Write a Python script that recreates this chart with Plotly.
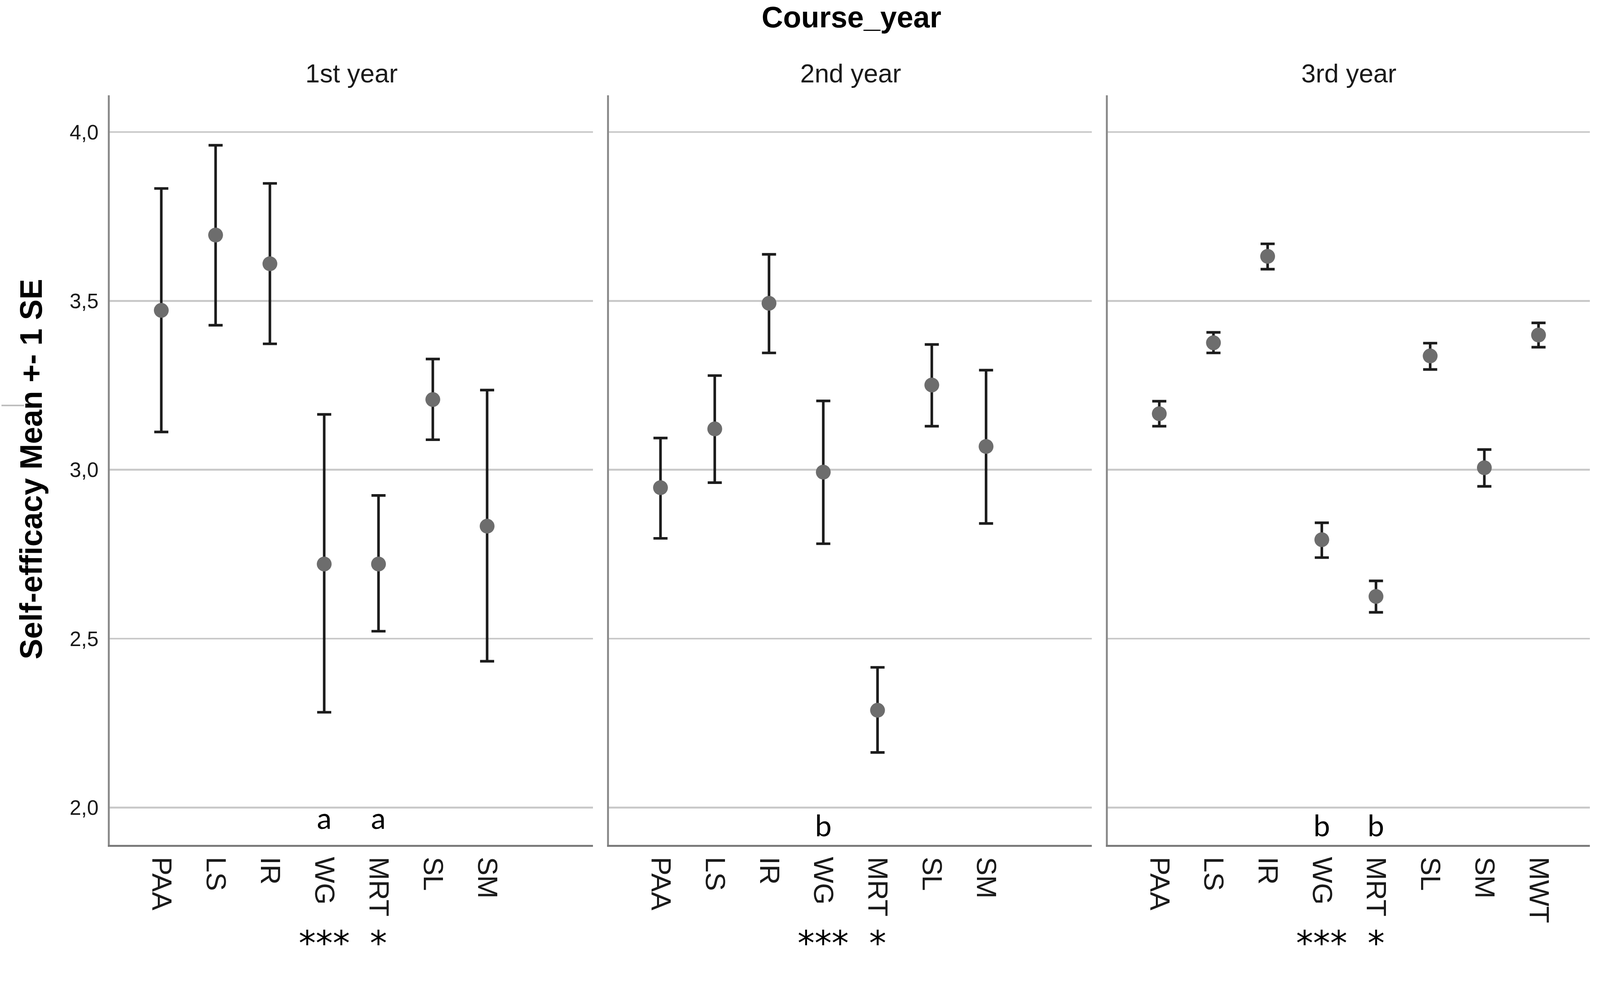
import plotly.graph_objects as go

# ---------------- data ----------------
categories = ["PAA", "LS", "IR", "WG", "MRT", "SL", "SM", "MWT"]
panel_titles = ["1st year", "2nd year", "3rd year"]

year1_mean  = [3.472, 3.695, 3.610, 2.721, 2.721, 3.208, 2.833, None]
year1_upper = [3.833, 3.961, 3.848, 3.164, 2.924, 3.328, 3.236, None]
year1_lower = [3.112, 3.428, 3.373, 2.282, 2.522, 3.089, 2.433, None]

year2_mean  = [2.947, 3.121, 3.493, 2.993, 2.288, 3.251, 3.069, None]
year2_upper = [3.094, 3.279, 3.638, 3.204, 2.415, 3.371, 3.295, None]
year2_lower = [2.797, 2.962, 3.346, 2.781, 2.163, 3.129, 2.841, None]

year3_mean  = [3.166, 3.376, 3.632, 2.793, 2.625, 3.337, 3.006, 3.399]
year3_upper = [3.203, 3.407, 3.669, 2.843, 2.671, 3.375, 3.060, 3.435]
year3_lower = [3.129, 3.346, 3.594, 2.740, 2.578, 3.297, 2.951, 3.363]

year1_letters = {"WG": "a", "MRT": "a"}
year2_letters = {"WG": "b"}
year3_letters = {"WG": "b", "MRT": "b"}
significance = {"WG": "***", "MRT": "*"}

y_ticks = [2.0, 2.5, 3.0, 3.5, 4.0]

# ---------------- layout helpers ----------------
W = 4317          # reference width
H = 2620          # figure height (reference is 2555; a little extra room at the bottom
                  # so the star annotations' text boxes stay inside the figure)
def px_x(v):
    return v / W
def px_y(v):
    return 1 - v / H

x_domains = [(296, 1600), (1643, 2946), (2989, 4290)]
y_domain = [px_y(2280), px_y(257)]

means = [year1_mean, year2_mean, year3_mean]
uppers = [year1_upper, year2_upper, year3_upper]
lowers = [year1_lower, year2_lower, year3_lower]
letters = [year1_letters, year2_letters, year3_letters]

fig = go.Figure()

for i in range(3):
    xs, ys, eplus, eminus = [], [], [], []
    for j, c in enumerate(categories):
        m = means[i][j]
        if m is None:
            continue
        xs.append(j)
        ys.append(m)
        eplus.append(uppers[i][j] - m)
        eminus.append(m - lowers[i][j])
    suffix = "" if i == 0 else str(i + 1)
    fig.add_trace(go.Scatter(
        x=xs, y=ys, mode="markers",
        xaxis="x" + suffix, yaxis="y" + suffix,
        marker=dict(size=40, color="#6d6d6d", line=dict(width=0)),
        error_y=dict(type="data", symmetric=False, array=eplus, arrayminus=eminus,
                     color="#1c1c1c", thickness=7, width=19),
        showlegend=False, hoverinfo="skip",
    ))

layout = dict(
    width=W, height=H,
    margin=dict(l=0, r=0, t=0, b=0),
    paper_bgcolor="white", plot_bgcolor="white",
    separators=", ",
    showlegend=False,
    font=dict(family="Liberation Sans, Arial, sans-serif", color="#1a1a1a"),
)

for i in range(3):
    suffix = "" if i == 0 else str(i + 1)
    n_lab = 8 if i == 2 else 7
    xa = dict(
        domain=[px_x(x_domains[i][0]), px_x(x_domains[i][1])],
        range=[-0.95, 7.95],
        anchor="y" + suffix,
        tickmode="array",
        tickvals=list(range(n_lab)),
        ticktext=categories[:n_lab],
        tickangle=90,
        tickfont=dict(family="Liberation Sans Narrow, Arial Narrow, Liberation Sans, sans-serif",
                      size=75, color="#1a1a1a"),
        ticks="", showgrid=False, zeroline=False,
        showline=True, linecolor="#7a7a7a", linewidth=5,
        ticklabelstandoff=12,
        fixedrange=True,
    )
    ya = dict(
        domain=y_domain,
        range=[1.889, 4.109],
        anchor="x" + suffix,
        tickmode="array",
        tickvals=y_ticks,
        tickformat=".1f",
        showticklabels=(i == 0),
        tickfont=dict(size=56, color="#1a1a1a"),
        ticks="", showgrid=True, gridcolor="#c9c9c9", gridwidth=5,
        zeroline=False,
        showline=True, linecolor="#8c8c8c", linewidth=5,
        ticklabelstandoff=14,
        fixedrange=True,
    )
    layout["xaxis" + suffix] = xa
    layout["yaxis" + suffix] = ya

fig.update_layout(**layout)

annotations = []
# main title
annotations.append(dict(text="<b>Course_year</b>", x=px_x(2297), y=px_y(46), xref="paper", yref="paper",
                        xanchor="center", yanchor="middle", showarrow=False,
                        font=dict(size=80, color="#000000")))
# panel titles
for i, t in enumerate(panel_titles):
    cx = (x_domains[i][0] + x_domains[i][1]) / 2
    annotations.append(dict(text=t, x=px_x(cx), y=px_y(198), xref="paper", yref="paper",
                            xanchor="center", yanchor="middle", showarrow=False,
                            font=dict(size=70, color="#1a1a1a")))
# y axis title
annotations.append(dict(text="<b>Self-efficacy Mean +- 1 SE</b>", x=px_x(84), y=px_y(1266),
                        xref="paper", yref="paper", xanchor="center", yanchor="middle",
                        textangle=-90, showarrow=False, font=dict(size=83, color="#000000")))
# letters and stars
for i in range(3):
    suffix = "" if i == 0 else str(i + 1)
    for c, lab in letters[i].items():
        yv = 1.970 if lab == "a" else 1.948
        annotations.append(dict(text=lab, x=categories.index(c), y=yv,
                                xref="x" + suffix, yref="y" + suffix,
                                xanchor="center", yanchor="middle", showarrow=False,
                                font=dict(family="Lato, Open Sans, sans-serif", size=80, color="#000000")))
    for c, lab in significance.items():
        annotations.append(dict(text=lab, x=categories.index(c), y=px_y(2545),
                                xref="x" + suffix, yref="paper",
                                xanchor="center", yanchor="middle", showarrow=False,
                                font=dict(family="DejaVu Sans, sans-serif", size=92, color="#000000")))
fig.update_layout(annotations=annotations)

# stray mark near the y title
fig.add_shape(type="line", xref="paper", yref="paper",
              x0=px_x(4), x1=px_x(65), y0=px_y(1094), y1=px_y(1094),
              line=dict(color="#bdbdbd", width=4))

# fit the fixed-size figure to the width of whatever viewport the page gets
post = """
var gd = document.getElementById('{plot_id}');
document.documentElement.style.margin = '0';
document.body.style.margin = '0';
document.body.style.overflow = 'hidden';
var s = window.innerWidth / %d;
gd.style.transformOrigin = '0 0';
gd.style.transform = 'scale(' + s + ')';
""" % (W,)

fig.write_html("out.html", post_script=post, config={"displayModeBar": False})
